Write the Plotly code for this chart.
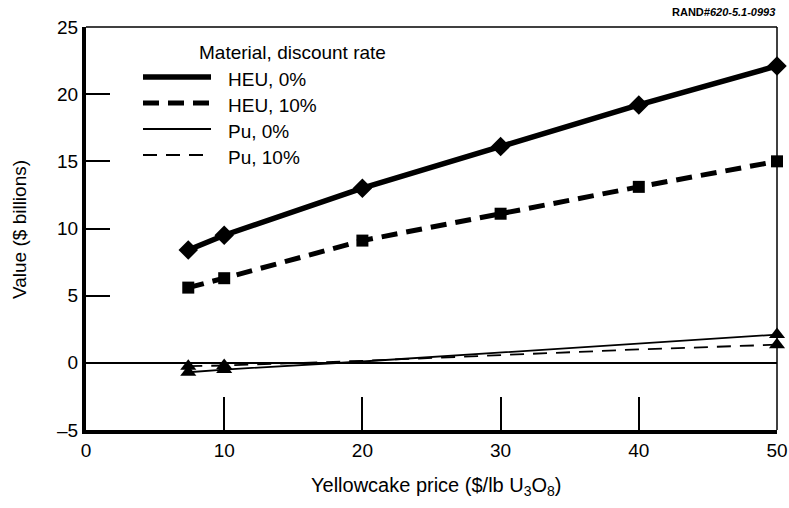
import plotly.graph_objects as go

price = [7.4, 10, 20, 30, 40, 50]
heu_0 = [8.4, 9.5, 13.0, 16.1, 19.2, 22.1]
heu_10 = [5.6, 6.3, 9.1, 11.1, 13.1, 15.0]
pu_0 = [-0.7, -0.5, 0.1, 0.75, 1.45, 2.1]
pu_10 = [-0.25, -0.2, 0.15, 0.6, 1.0, 1.35]
pu_marker_idx = [0, 1, 5]  # Pu points drawn with a triangle

x_ticks = [0, 10, 20, 30, 40, 50]
y_ticks = [-5, 0, 5, 10, 15, 20, 25]
y_tick_text = ["\u20135", "0", "5", "10", "15", "20", "25"]

legend_title = "Material, discount rate"
legend_labels = ["HEU, 0%", "HEU, 10%", "Pu, 0%", "Pu, 10%"]

FONT = "Liberation Sans, Arial, Helvetica, sans-serif"

W, H = 789, 508
L, R, T, B = 86, 12, 27, 78
PW, PH = W - L - R, H - T - B


def px(x):
    return (x - L) / PW


def py(y):
    return (H - B - y) / PH


fig = go.Figure()

styles = [
    dict(width=5.5, dash="solid"),
    dict(width=5, dash="16px,9px"),
    dict(width=1.8, dash="solid"),
    dict(width=1.8, dash="14px,9px"),
]

for series, st in ((pu_10, styles[3]), (pu_0, styles[2])):
    fig.add_trace(go.Scatter(
        x=price, y=series, mode="lines", showlegend=False, cliponaxis=False,
        line=dict(color="black", **st),
    ))
    fig.add_trace(go.Scatter(
        x=[price[i] for i in pu_marker_idx], y=[series[i] for i in pu_marker_idx],
        mode="markers", showlegend=False, cliponaxis=False,
        marker=dict(symbol="triangle-up", size=14, color="black", opacity=1,
                    line=dict(width=0)),
    ))
fig.add_trace(go.Scatter(
    x=price, y=heu_10, mode="lines+markers", showlegend=False, cliponaxis=False,
    line=dict(color="black", **styles[1]),
    marker=dict(symbol="square", size=12, color="black", line=dict(width=0)),
))
fig.add_trace(go.Scatter(
    x=price, y=heu_0, mode="lines+markers", showlegend=False, cliponaxis=False,
    line=dict(color="black", **styles[0]),
    marker=dict(symbol="diamond", size=15, color="black", line=dict(width=0)),
))

shapes = []
# thin top and right frame lines
shapes.append(dict(type="line", xref="paper", yref="paper", x0=0, x1=1, y0=1, y1=1,
                   line=dict(color="black", width=1.5)))
shapes.append(dict(type="line", xref="paper", yref="paper", x0=1, x1=1, y0=0, y1=1,
                   line=dict(color="black", width=1.5)))

annotations = []
# legend
annotations.append(dict(text=legend_title, xref="paper", yref="paper",
                        x=px(197), y=py(52), xanchor="left", yanchor="middle",
                        showarrow=False, font=dict(size=19, color="black", family=FONT)))
row_y = [77, 103, 129, 155]
for lab, st, yy in zip(legend_labels, styles, row_y):
    shapes.append(dict(type="line", xref="paper", yref="paper",
                       x0=px(143), x1=px(211), y0=py(yy), y1=py(yy),
                       line=dict(color="black", width=st["width"], dash=st["dash"])))
    annotations.append(dict(text=lab, xref="paper", yref="paper",
                            x=px(226), y=py(yy + 2), xanchor="left", yanchor="middle",
                            showarrow=False, font=dict(size=19, color="black", family=FONT)))

# axis titles
annotations.append(dict(text="Yellowcake price ($/lb U<sub>3</sub>O<sub>8</sub>)",
                        xref="paper", yref="paper", x=px(436), y=py(486),
                        xanchor="center", yanchor="middle", showarrow=False,
                        font=dict(size=20, color="black", family=FONT)))
annotations.append(dict(text="Value ($ billions)", xref="paper", yref="paper",
                        x=px(19), y=py(230), textangle=-90,
                        xanchor="center", yanchor="middle", showarrow=False,
                        font=dict(size=19, color="black", family=FONT)))
# source label
annotations.append(dict(text="<b>RAND</b><b><i>#620-5.1-0993</i></b>",
                        xref="paper", yref="paper", x=px(777), y=py(12),
                        xanchor="right", yanchor="middle", showarrow=False,
                        font=dict(size=11, color="black", family=FONT)))

fig.update_layout(
    width=W, height=H,
    margin=dict(l=L, r=R, t=T, b=B, pad=0, autoexpand=False),
    paper_bgcolor="white", plot_bgcolor="white",
    showlegend=False,
    shapes=shapes, annotations=annotations,
    font=dict(family=FONT, size=19, color="black"),
    xaxis=dict(
        range=[0, 50], tickvals=x_ticks, ticktext=[str(v) for v in x_ticks],
        ticks="inside", ticklen=33, tickwidth=1.5, tickcolor="black",
        showline=True, linewidth=4, linecolor="black",
        showgrid=False, zeroline=False, automargin=False,
        tickfont=dict(size=19, family=FONT, color="black"),
    ),
    yaxis=dict(
        range=[-5, 25], tickvals=y_ticks, ticktext=y_tick_text,
        ticks="inside", ticklen=24, tickwidth=1.5, tickcolor="black",
        showline=True, linewidth=4, linecolor="black",
        showgrid=False, zeroline=True, zerolinecolor="black", zerolinewidth=1.5,
        automargin=False,
        tickfont=dict(size=19, family=FONT, color="black"),
    ),
)

fig.write_html("out.html")
